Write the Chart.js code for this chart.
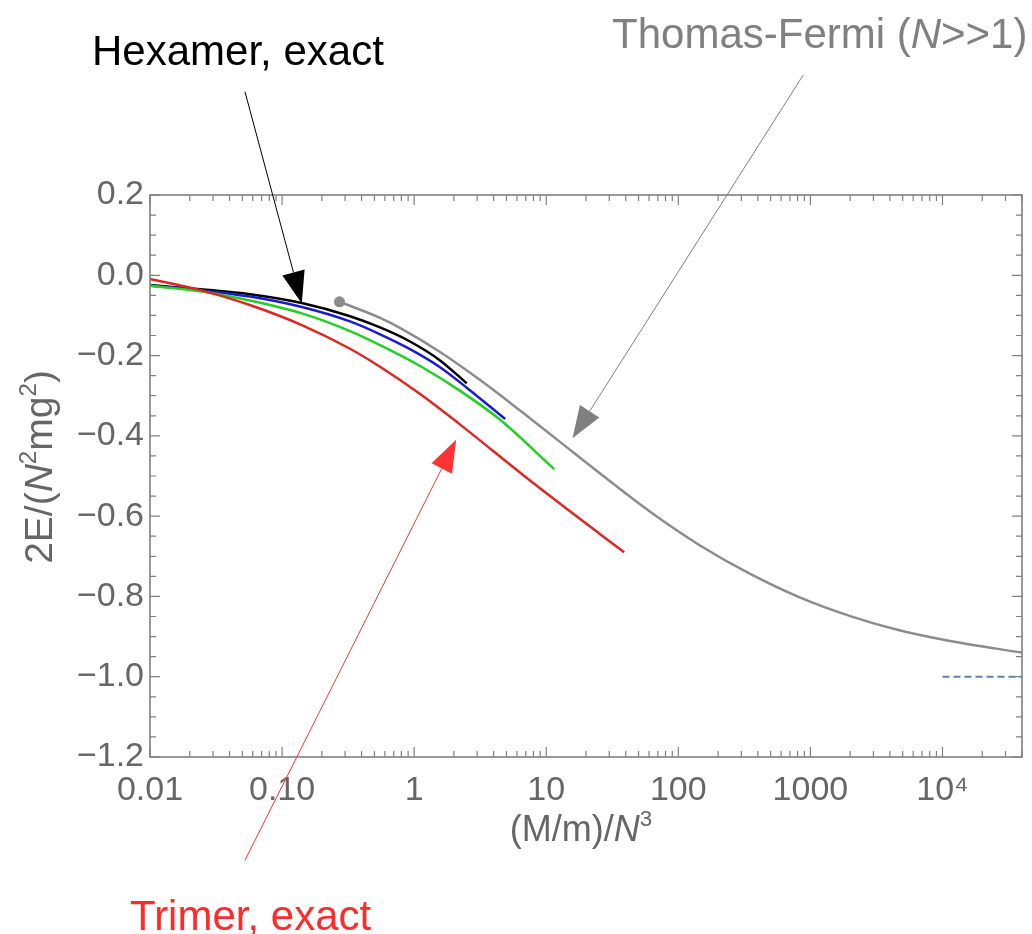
<!DOCTYPE html>
<html><head><meta charset="utf-8">
<script src="https://cdn.jsdelivr.net/npm/chart.js@4/dist/chart.umd.min.js"></script>
<style>html,body{margin:0;padding:0;background:#fff;}#wrap{width:1032px;height:934px;position:relative;}</style>
</head><body><div id="wrap"><canvas id="c" width="1032" height="934"></canvas></div>
<script>
// ---- data ----
const hexamerX = [0.01, 0.024, 0.057, 0.141, 0.327, 0.552, 0.93, 1.57, 2.5];
const hexamerY = [-0.024, -0.035, -0.047, -0.069, -0.102, -0.130, -0.165, -0.212, -0.269];
const pentamerX = [0.01, 0.024, 0.057, 0.141, 0.327, 0.552, 0.93, 1.57, 2.5, 4.89];
const pentamerY = [-0.026, -0.037, -0.053, -0.079, -0.115, -0.147, -0.184, -0.229, -0.280, -0.358];
const tetramerX = [0.01, 0.024, 0.057, 0.141, 0.327, 0.552, 1.11, 2.23, 4.48, 11.5];
const tetramerY = [-0.026, -0.040, -0.063, -0.095, -0.139, -0.174, -0.226, -0.288, -0.360, -0.483];
const trimerX = [0.01, 0.024, 0.057, 0.141, 0.327, 0.552, 1.11, 2.23, 7.13, 25.6, 38.9];
const trimerY = [-0.009, -0.037, -0.074, -0.124, -0.183, -0.228, -0.296, -0.372, -0.505, -0.645, -0.690];
const tfX = [0.272, 0.552, 0.78, 1.57, 3.16, 6.34, 12.7, 25.6, 61.2, 146, 350, 837, 2004, 4790, 11400, 40000];
const tfY = [-0.066, -0.106, -0.131, -0.191, -0.261, -0.337, -0.415, -0.494, -0.589, -0.673, -0.744, -0.803, -0.849, -0.885, -0.911, -0.940];
const limitX = [10000, 40000];
const limitY = [-1.0, -1.0];

const xTickValues = [0.01, 0.1, 1, 10, 100, 1000, 10000];
const xTickLabels = ["0.01", "0.10", "1", "10", "100", "1000", "10\u2074"];
const yTickValues = [0.2, 0, -0.2, -0.4, -0.6, -0.8, -1.0, -1.2];
const yTickLabels = ["0.2", "0.0", "\u22120.2", "\u22120.4", "\u22120.6", "\u22120.8", "\u22121.0", "\u22121.2"];
const xMin = 0.01, xMax = 40000, yMin = -1.2, yMax = 0.2;

// annotation arrows: [tailX, tailY, tipX, tipY] in data units
const hexArrow = [0.0524, 0.457, 0.141, -0.070];
const tfArrow = [883, 0.499, 15.8, -0.406];
const triArrow = [0.0524, -1.457, 2.08, -0.410];
// annotation text anchors (left, middle) in data units
const hexLabelPos = [0.00364, 0.561];
const tfLabelPos = [31.5, 0.604];
const triLabelPos = [0.00706, -1.594];

const pts = (xs, ys) => xs.map((x, i) => ({x: x, y: ys[i]}));

const FONT = "'Liberation Sans', Arial, Helvetica, sans-serif";
const AXIS = '#808080';
const LABEL = '#666666';

function richText(ctx, parts, x, y, size, color, align) {
  const w = parts.map(p => {
    const fs = p[1] === 's' ? size * 0.62 : size;
    ctx.font = (p[1] === 'i' ? 'italic ' : '') + fs + 'px ' + FONT;
    return ctx.measureText(p[0]).width;
  });
  const total = w.reduce((a, b) => a + b, 0);
  let cx = align === 'center' ? x - total / 2 : x;
  ctx.fillStyle = color;
  ctx.textBaseline = 'alphabetic';
  ctx.textAlign = 'left';
  parts.forEach((p, i) => {
    const fs = p[1] === 's' ? size * 0.62 : size;
    ctx.font = (p[1] === 'i' ? 'italic ' : '') + fs + 'px ' + FONT;
    ctx.fillText(p[0], cx, p[1] === 's' ? y - size * 0.42 : y);
    cx += w[i];
  });
}

function arrow(ctx, xs, ys, a, color) {
  const x0 = xs.getPixelForValue(a[0]), y0 = ys.getPixelForValue(a[1]);
  const x1 = xs.getPixelForValue(a[2]), y1 = ys.getPixelForValue(a[3]);
  const ang = Math.atan2(y1 - y0, x1 - x0);
  const L = 32, H = 11.5;
  const bx = x1 - L * Math.cos(ang), by = y1 - L * Math.sin(ang);
  ctx.strokeStyle = color; ctx.fillStyle = color; ctx.lineWidth = 1;
  ctx.beginPath(); ctx.moveTo(x0, y0); ctx.lineTo(bx, by); ctx.stroke();
  ctx.beginPath();
  ctx.moveTo(x1, y1);
  ctx.lineTo(bx + H * Math.sin(ang), by - H * Math.cos(ang));
  ctx.lineTo(bx - H * Math.sin(ang), by + H * Math.cos(ang));
  ctx.closePath(); ctx.fill();
}

const decorPlugin = {
  id: 'decor',
  afterDraw(chart) {
    const ctx = chart.ctx, xs = chart.scales.x, ys = chart.scales.y;
    const {left, right, top, bottom} = chart.chartArea;
    ctx.save();
    ctx.strokeStyle = AXIS; ctx.lineWidth = 1.6;
    ctx.strokeRect(left, top, right - left, bottom - top);
    ctx.lineWidth = 1.2;
    xTickValues.forEach(d => {
      for (let k = 1; k <= 9; k++) {
        const v = d * k;
        if (v > xMax * 1.0001) break;
        const px = xs.getPixelForValue(v);
        const len = k === 1 ? 10 : 6;
        ctx.beginPath();
        ctx.moveTo(px, bottom); ctx.lineTo(px, bottom - len);
        ctx.moveTo(px, top); ctx.lineTo(px, top + len);
        ctx.stroke();
      }
    });
    for (let i = 0; i <= 28; i++) {
      const v = yMin + i * 0.05;
      const py = ys.getPixelForValue(v);
      const len = i % 4 === 0 ? 10 : 6;
      ctx.beginPath();
      ctx.moveTo(left, py); ctx.lineTo(left + len, py);
      ctx.moveTo(right, py); ctx.lineTo(right - len, py);
      ctx.stroke();
    }
    // axis titles
    richText(ctx, [['(M/m)/', ''], ['N', 'i'], ['3', 's']], (left + right) / 2 - 5, bottom + 84, 36, LABEL, 'center');
    ctx.save();
    ctx.translate(52, (top + bottom) / 2 - 9);
    ctx.rotate(-Math.PI / 2);
    richText(ctx, [['2E/(', ''], ['N', 'i'], ['2', 's'], ['mg', ''], ['2', 's'], [')', '']], 0, 0, 39, LABEL, 'center');
    ctx.restore();
    // annotations
    arrow(ctx, xs, ys, hexArrow, '#000000');
    arrow(ctx, xs, ys, tfArrow, '#808080');
    arrow(ctx, xs, ys, triArrow, '#ff3333');
    richText(ctx, [['Hexamer, exact', '']], xs.getPixelForValue(hexLabelPos[0]), ys.getPixelForValue(hexLabelPos[1]) + 15, 42, '#000000', 'left');
    richText(ctx, [['Thomas-Fermi (', ''], ['N', 'i'], ['>>1)', '']], xs.getPixelForValue(tfLabelPos[0]), ys.getPixelForValue(tfLabelPos[1]) + 15, 42, '#808080', 'left');
    richText(ctx, [['Trimer, exact', '']], xs.getPixelForValue(triLabelPos[0]), ys.getPixelForValue(triLabelPos[1]) + 15, 42, '#ff2a2a', 'left');
    ctx.restore();
  }
};

const base = {fill: false, pointRadius: 0, borderWidth: 2.5, cubicInterpolationMode: 'monotone'};

new Chart(document.getElementById('c'), {
  type: 'line',
  data: {
    datasets: [
      Object.assign({}, base, {label: 'Thomas-Fermi', data: pts(tfX, tfY), borderColor: '#8c8c8c', backgroundColor: '#8c8c8c',
        pointRadius: ctx => ctx.dataIndex === 0 ? 5.5 : 0, pointBorderWidth: 0, pointBackgroundColor: '#8c8c8c'}),
      Object.assign({}, base, {label: 'Trimer', data: pts(trimerX, trimerY), borderColor: '#e02525'}),
      Object.assign({}, base, {label: 'Tetramer', data: pts(tetramerX, tetramerY), borderColor: '#22d022'}),
      Object.assign({}, base, {label: 'Pentamer', data: pts(pentamerX, pentamerY), borderColor: '#1a1ad0'}),
      Object.assign({}, base, {label: 'Hexamer', data: pts(hexamerX, hexamerY), borderColor: '#000000'}),
      Object.assign({}, base, {label: 'Limit', data: pts(limitX, limitY), borderColor: '#5e81b5', borderWidth: 2, borderDash: [7, 4], cubicInterpolationMode: 'default', tension: 0})
    ]
  },
  options: {
    responsive: false, animation: false, devicePixelRatio: 1,
    layout: {padding: {top: 195, right: 10, left: 0, bottom: 0}},
    plugins: {legend: {display: false}, tooltip: {enabled: false}},
    scales: {
      x: {
        type: 'logarithmic', min: xMin, max: xMax,
        grid: {display: false, drawTicks: false}, border: {display: false},
        afterBuildTicks: s => { s.ticks = xTickValues.map(v => ({value: v})); },
        afterFit: s => { s.height = 934 - 757; },
        ticks: {autoSkip: false, maxRotation: 0, padding: 13, color: LABEL, font: {family: FONT, size: 34},
          callback: (v) => { const i = xTickValues.indexOf(v); return i >= 0 ? xTickLabels[i] : ''; }}
      },
      y: {
        type: 'linear', min: yMin, max: yMax,
        grid: {display: false, drawTicks: false}, border: {display: false},
        afterBuildTicks: s => { s.ticks = yTickValues.map(v => ({value: v})); },
        afterFit: s => { s.width = 150; },
        ticks: {padding: 6, color: LABEL, font: {family: FONT, size: 34},
          callback: (v) => { const i = yTickValues.findIndex(t => Math.abs(t - v) < 1e-9); return i >= 0 ? yTickLabels[i] : ''; }}
      }
    }
  },
  plugins: [decorPlugin]
});
</script>
</body></html>
